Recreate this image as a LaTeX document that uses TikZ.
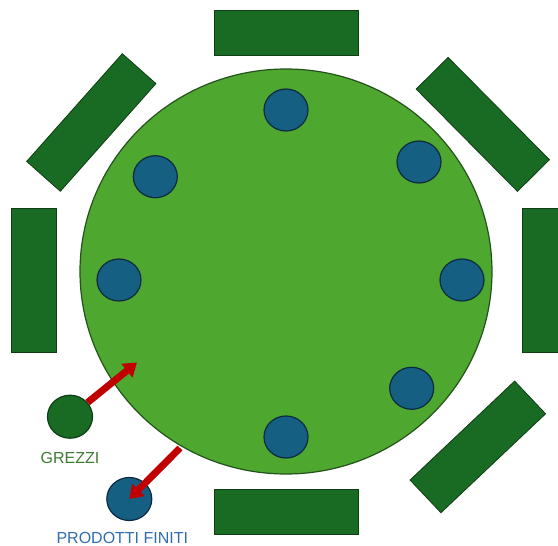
\documentclass[tikz,border=0pt]{standalone}
\usepackage{fontspec}
\setmainfont{Liberation Sans}
\usetikzlibrary{positioning,arrows.meta,shapes.geometric}
\definecolor{verdetavolo}{HTML}{4EA72E}
\definecolor{bordotavolo}{HTML}{24521C}
\definecolor{verdestaz}{HTML}{196B24}
\definecolor{bordostaz}{HTML}{0F3D15}
\definecolor{bluposto}{HTML}{156082}
\definecolor{bordoposto}{HTML}{0E2841}
\definecolor{rossoflusso}{HTML}{C00000}
\definecolor{testoverde}{HTML}{3E7A33}
\definecolor{testoblu}{HTML}{2E6DB0}

\begin{document}
\begin{tikzpicture}[x=1pt, y=-1pt,
      font=\fontsize{16}{18}\selectfont,
      stazbox/.style={draw=bordostaz, fill=verdestaz, line width=0.8pt, inner sep=0pt,
                      minimum width=144pt, minimum height=45pt},
      posto/.style={ellipse, draw=bordoposto, fill=bluposto, line width=1.2pt, inner sep=0pt,
                    minimum width=44pt, minimum height=42pt},
      etichetta/.style={inner sep=1pt},
      flusso/.style={-{Triangle[width=17pt,length=13pt]}, rossoflusso, line width=7pt},
      node distance=12pt]
    \clip (0,0) rectangle (558,546);
    % stazioni attorno al tavolo
    \node[stazbox] (s-n) at (286,32.5) {};
    \node[stazbox] (s-s) at (286,512) {};
    \node[stazbox, rotate=90] (s-o) at (33.5,280.5) {};
    \node[stazbox, rotate=90] (s-e) at (544.5,280.5) {};
    \node[stazbox, rotate=48.4] (s-no) at (91.3,122.5) {};
    \node[stazbox, rotate=-45.3] (s-ne) at (482.8,124.4) {};
    \node[stazbox, rotate=43.4] (s-se) at (477.8,446.9) {};
    % tavolo rotante
    \node[ellipse, draw=bordotavolo, fill=verdetavolo, line width=1.2pt,
          minimum width=412pt, minimum height=405pt] (tavolo) at (286,271.5) {};
    \node[posto] (p1) at (286,110) {};
    \node[posto] (p2) at (419,162) {};
    \node[posto] (p3) at (462,280) {};
    \node[posto] (p4) at (411.7,388.3) {};
    \node[posto] (p5) at (286,437) {};
    \node[posto] (p6) at (119,280) {};
    \node[posto] (p7) at (155.3,176.7) {};
    % ingresso e uscita
    \node[posto, draw=bordostaz, fill=verdestaz, minimum width=45pt, minimum height=43pt] (grezzi) at (70,416.7) {};
    \node[posto, minimum width=45pt, minimum height=43pt] (prodotti) at (129.3,499) {};
    \node[etichetta, below=of grezzi, text=testoverde] (lgrezzi) {GREZZI};
    \node[etichetta, below=10pt of prodotti, xshift=-7pt, text=testoblu] (lprodotti) {PRODOTTI FINITI};
    \coordinate (ingresso) at (137,362.5);
    \coordinate (uscita) at (180,448);
    \draw[flusso] (grezzi) -- (ingresso);
    \draw[flusso] (uscita) -- (prodotti.center);
  \end{tikzpicture}
\end{document}
